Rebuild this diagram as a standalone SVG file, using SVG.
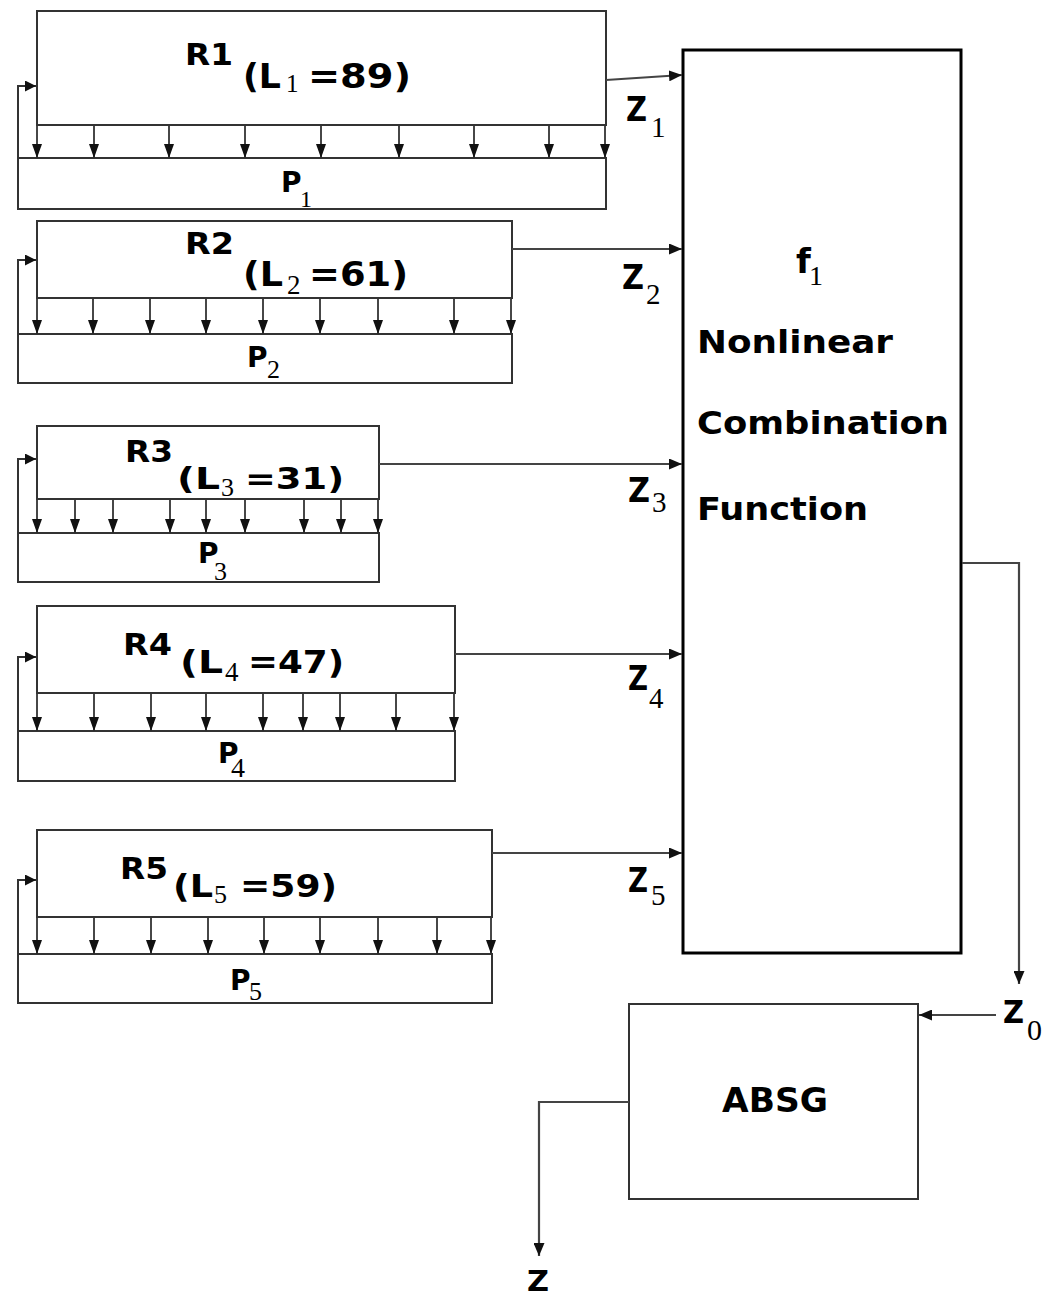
<svg xmlns="http://www.w3.org/2000/svg" width="1053" height="1298" viewBox="0 0 1053 1298">
<style>
.bx{fill:none;stroke:#333;stroke-width:2}
.big{fill:#fff;stroke:#000;stroke-width:3}
.ln{fill:none;stroke:#333;stroke-width:2}
.da{stroke:#333;stroke-width:1.8;marker-end:url(#sa)}
.za{fill:none;stroke:#444;stroke-width:2.2;marker-end:url(#ba)}
.t{font-family:"DejaVu Sans",Verdana,sans-serif;font-weight:bold;fill:#000}
.s{font-family:"Liberation Serif","Times New Roman",serif;fill:#000}
</style>
<defs>
<marker id="sa" markerWidth="10" markerHeight="14" refX="5" refY="14" orient="0" markerUnits="userSpaceOnUse"><path d="M0,0 L10,0 L5,14 z" fill="#111"/></marker>
<marker id="ba" markerWidth="13" markerHeight="11" refX="13" refY="5.5" orient="auto" markerUnits="userSpaceOnUse"><path d="M0,0 L13,5.5 L0,11 z" fill="#111"/></marker>
<marker id="fa" markerWidth="11" markerHeight="11" refX="11" refY="5.5" orient="auto" markerUnits="userSpaceOnUse"><path d="M0,0 L11,5.5 L0,11 z" fill="#111"/></marker>
</defs>
<rect width="1053" height="1298" fill="#fff"/>

<g id="R1">
<rect class="bx" x="37" y="11" width="569" height="114"/>
<rect class="bx" x="18" y="158" width="588" height="51"/>
<path class="ln" d="M18,158 V86 H36" marker-end="url(#fa)"/>
<g>
<line class="da" x1="37" y1="125" x2="37" y2="158"/><line class="da" x1="94" y1="125" x2="94" y2="158"/><line class="da" x1="169" y1="125" x2="169" y2="158"/><line class="da" x1="245" y1="125" x2="245" y2="158"/><line class="da" x1="321" y1="125" x2="321" y2="158"/><line class="da" x1="399" y1="125" x2="399" y2="158"/><line class="da" x1="474" y1="125" x2="474" y2="158"/><line class="da" x1="549" y1="125" x2="549" y2="158"/><line class="da" x1="605" y1="125" x2="605" y2="158"/>
</g>
<text class="t" x="185" y="65" font-size="30" textLength="48" lengthAdjust="spacingAndGlyphs">R1</text>
<text class="t" x="243" y="88" font-size="33" textLength="38" lengthAdjust="spacingAndGlyphs">(L</text>
<text class="s" x="286" y="92" font-size="25">1</text>
<text class="t" x="308" y="88" font-size="33" textLength="103" lengthAdjust="spacingAndGlyphs">=89)</text>
<text class="t" x="281" y="192" font-size="28">P</text>
<text class="s" x="300" y="207" font-size="24">1</text>
</g>

<g id="R2">
<rect class="bx" x="37" y="221" width="475" height="77"/>
<rect class="bx" x="18" y="334" width="494" height="49"/>
<path class="ln" d="M18,334 V260 H36" marker-end="url(#fa)"/>
<g>
<line class="da" x1="37" y1="298" x2="37" y2="334"/><line class="da" x1="93" y1="298" x2="93" y2="334"/><line class="da" x1="150" y1="298" x2="150" y2="334"/><line class="da" x1="206" y1="298" x2="206" y2="334"/><line class="da" x1="263" y1="298" x2="263" y2="334"/><line class="da" x1="320" y1="298" x2="320" y2="334"/><line class="da" x1="378" y1="298" x2="378" y2="334"/><line class="da" x1="454" y1="298" x2="454" y2="334"/><line class="da" x1="511" y1="298" x2="511" y2="334"/>
</g>
<text class="t" x="185" y="254" font-size="30" textLength="49" lengthAdjust="spacingAndGlyphs">R2</text>
<text class="t" x="243" y="286" font-size="33" textLength="40" lengthAdjust="spacingAndGlyphs">(L</text>
<text class="s" x="287" y="294" font-size="27">2</text>
<text class="t" x="309" y="286" font-size="33" textLength="99" lengthAdjust="spacingAndGlyphs">=61)</text>
<text class="t" x="247" y="367" font-size="28">P</text>
<text class="s" x="267" y="378" font-size="26">2</text>
</g>

<g id="R3">
<rect class="bx" x="37" y="426" width="342" height="73"/>
<rect class="bx" x="18" y="533" width="361" height="49"/>
<path class="ln" d="M18,533 V459 H36" marker-end="url(#fa)"/>
<g>
<line class="da" x1="37" y1="499" x2="37" y2="533"/><line class="da" x1="75" y1="499" x2="75" y2="533"/><line class="da" x1="113" y1="499" x2="113" y2="533"/><line class="da" x1="170" y1="499" x2="170" y2="533"/><line class="da" x1="206" y1="499" x2="206" y2="533"/><line class="da" x1="245" y1="499" x2="245" y2="533"/><line class="da" x1="304" y1="499" x2="304" y2="533"/><line class="da" x1="341" y1="499" x2="341" y2="533"/><line class="da" x1="378" y1="499" x2="378" y2="533"/>
</g>
<text class="t" x="125" y="462" font-size="30" textLength="48" lengthAdjust="spacingAndGlyphs">R3</text>
<text class="t" x="177" y="489" font-size="31" textLength="43" lengthAdjust="spacingAndGlyphs">(L</text>
<text class="s" x="221" y="496" font-size="26">3</text>
<text class="t" x="245" y="489" font-size="31" textLength="99" lengthAdjust="spacingAndGlyphs">=31)</text>
<text class="t" x="198" y="563" font-size="28">P</text>
<text class="s" x="214" y="580" font-size="26">3</text>
</g>

<g id="R4">
<rect class="bx" x="37" y="606" width="418" height="87"/>
<rect class="bx" x="18" y="731" width="437" height="50"/>
<path class="ln" d="M18,731 V657 H36" marker-end="url(#fa)"/>
<g>
<line class="da" x1="37" y1="693" x2="37" y2="731"/><line class="da" x1="94" y1="693" x2="94" y2="731"/><line class="da" x1="151" y1="693" x2="151" y2="731"/><line class="da" x1="206" y1="693" x2="206" y2="731"/><line class="da" x1="263" y1="693" x2="263" y2="731"/><line class="da" x1="303" y1="693" x2="303" y2="731"/><line class="da" x1="340" y1="693" x2="340" y2="731"/><line class="da" x1="396" y1="693" x2="396" y2="731"/><line class="da" x1="454" y1="693" x2="454" y2="731"/>
</g>
<text class="t" x="123" y="655" font-size="30" textLength="49" lengthAdjust="spacingAndGlyphs">R4</text>
<text class="t" x="180" y="673" font-size="32" textLength="43" lengthAdjust="spacingAndGlyphs">(L</text>
<text class="s" x="225" y="681" font-size="27">4</text>
<text class="t" x="248" y="673" font-size="32" textLength="96" lengthAdjust="spacingAndGlyphs">=47)</text>
<text class="t" x="218" y="763" font-size="28">P</text>
<text class="s" x="231" y="777" font-size="28">4</text>
</g>

<g id="R5">
<rect class="bx" x="37" y="830" width="455" height="87"/>
<rect class="bx" x="18" y="954" width="474" height="49"/>
<path class="ln" d="M18,954 V880 H36" marker-end="url(#fa)"/>
<g>
<line class="da" x1="37" y1="917" x2="37" y2="954"/><line class="da" x1="94" y1="917" x2="94" y2="954"/><line class="da" x1="151" y1="917" x2="151" y2="954"/><line class="da" x1="208" y1="917" x2="208" y2="954"/><line class="da" x1="264" y1="917" x2="264" y2="954"/><line class="da" x1="320" y1="917" x2="320" y2="954"/><line class="da" x1="378" y1="917" x2="378" y2="954"/><line class="da" x1="437" y1="917" x2="437" y2="954"/><line class="da" x1="491" y1="917" x2="491" y2="954"/>
</g>
<text class="t" x="120" y="879" font-size="30" textLength="48" lengthAdjust="spacingAndGlyphs">R5</text>
<text class="t" x="173" y="897" font-size="32" textLength="40" lengthAdjust="spacingAndGlyphs">(L</text>
<text class="s" x="214" y="903" font-size="26">5</text>
<text class="t" x="240" y="897" font-size="32" textLength="97" lengthAdjust="spacingAndGlyphs">=59)</text>
<text class="t" x="230" y="990" font-size="28">P</text>
<text class="s" x="249" y="1000" font-size="26">5</text>
</g>

<g id="f1">
<rect class="big" x="683" y="50" width="278" height="903"/>
<text class="t" x="796" y="273" font-size="34">f</text>
<text class="s" x="809" y="285" font-size="28">1</text>
<text class="t" x="697" y="353" font-size="32" textLength="196" lengthAdjust="spacingAndGlyphs">Nonlinear</text>
<text class="t" x="697" y="434" font-size="32" textLength="252" lengthAdjust="spacingAndGlyphs">Combination</text>
<text class="t" x="697" y="520" font-size="32" textLength="171" lengthAdjust="spacingAndGlyphs">Function</text>
</g>

<g id="ABSG">
<rect class="bx" x="629" y="1004" width="289" height="195"/>
<text class="t" x="722" y="1112" font-size="34" textLength="106" lengthAdjust="spacingAndGlyphs">ABSG</text>
</g>

<g id="connectors">
<line class="za" x1="606" y1="80" x2="682" y2="75"/>
<line class="za" x1="512" y1="249" x2="682" y2="249"/>
<line class="za" x1="379" y1="464" x2="682" y2="464"/>
<line class="za" x1="455" y1="654" x2="682" y2="654"/>
<line class="za" x1="492" y1="853" x2="682" y2="853"/>
<path class="za" d="M962,563 H1019 V984"/>
<line class="za" x1="996" y1="1015" x2="919" y2="1015"/>
<path class="za" d="M629,1102 H539 V1256"/>
</g>

<g id="labels">
<text class="t" x="626" y="121" font-size="33" textLength="21" lengthAdjust="spacingAndGlyphs">Z</text><text class="s" x="651" y="137" font-size="29">1</text>
<text class="t" x="622" y="289" font-size="33" textLength="22" lengthAdjust="spacingAndGlyphs">Z</text><text class="s" x="646" y="304" font-size="29">2</text>
<text class="t" x="628" y="502" font-size="33" textLength="22" lengthAdjust="spacingAndGlyphs">Z</text><text class="s" x="652" y="512" font-size="29">3</text>
<text class="t" x="628" y="690" font-size="33" textLength="20" lengthAdjust="spacingAndGlyphs">Z</text><text class="s" x="649" y="708" font-size="29">4</text>
<text class="t" x="628" y="892" font-size="33" textLength="20" lengthAdjust="spacingAndGlyphs">Z</text><text class="s" x="651" y="905" font-size="29">5</text>
<text class="t" x="1003" y="1023" font-size="32" textLength="21" lengthAdjust="spacingAndGlyphs">Z</text><text class="s" x="1027" y="1040" font-size="30">0</text>
<text class="t" x="527" y="1291" font-size="29" textLength="22" lengthAdjust="spacingAndGlyphs">Z</text>
</g>
</svg>
